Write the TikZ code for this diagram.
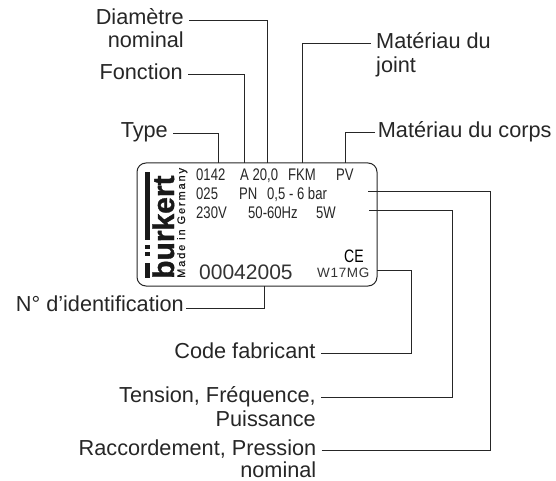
\documentclass[tikz,border=0pt]{standalone}
\usepackage{fontspec}
\setmainfont{Liberation Sans}
\newfontfamily\condfont[FakeStretch=0.78]{Liberation Sans}
\newfontfamily\madefont[LetterSpace=17,FakeBold=0.6]{Liberation Sans}
\newfontfamily\wfont[LetterSpace=5]{Liberation Sans}
\newfontfamily\logofont[FakeBold=1.2]{Liberation Sans Bold}
\begin{document}
\begin{tikzpicture}[x=1pt,y=-1pt,
  lbl/.style={inner sep=0pt,font=\fontsize{21.7}{23.8}\selectfont,text=black!85},
  plt/.style={inner sep=0pt,anchor=base west,font=\condfont\fontsize{16.8}{18}\selectfont,text=black!85},
  lead/.style={line width=0.8pt,draw=black!85}]
\useasboundingbox (0,0) rectangle (556,481);
% plate
\node[draw=black!85,line width=1pt,rounded corners=9pt,minimum width=240pt,minimum height=123pt,inner sep=0pt] (plate) at (257,224.5) {};
% logo
\fill[black!90] (145,172) rectangle (150,240);
\fill[black!90] (145,245) rectangle (150,249);
\fill[black!90] (145,252) rectangle (150,256);
\fill[black!90] (145,263) rectangle (150,278);
\node[rotate=90,anchor=base west,inner sep=0pt,font=\logofont\fontsize{30}{30}\selectfont,text=black!90] (logo) at (174,279) {burkert};
\node[rotate=90,anchor=base west,inner sep=0pt,font=\madefont\fontsize{11}{11}\selectfont,text=black!90] (made) at (185,278) {Made in Germany};
% plate text
\node[plt] (a1) at (196,180) {0142};
\node[plt] (a2) at (240,180) {A 20,0};
\node[plt] (a3) at (288,180) {FKM};
\node[plt] (a4) at (336,180) {PV};
\node[plt] (b1) at (196,199) {025};
\node[plt] (b2) at (239,199) {PN};
\node[plt] (b3) at (267,199) {0,5 - 6 bar};
\node[plt] (c1) at (196,218) {230V};
\node[plt] (c2) at (248,218) {50-60Hz};
\node[plt] (c3) at (316,218) {5W};
\node[inner sep=0pt,anchor=base west,font=\fontsize{21}{21}\selectfont,text=black!80] (idn) at (199,279) {00042005};
\node[inner sep=0pt,anchor=base west,font=\wfont\fontsize{13.5}{14}\selectfont,text=black!80] (wcode) at (317,277) {W17MG};
\node[inner sep=0pt,anchor=base west,font=\condfont\fontsize{18}{18}\selectfont,text=black] (ce) at (344,262) {CE};
% labels
\node[lbl,align=right,anchor=base east] (dia) at (184,48) {Diamètre\\nominal};
\node[lbl,anchor=base east] (fon) at (183,79.5) {Fonction};
\node[lbl,anchor=base east] (typ) at (168,137.3) {Type};
\node[lbl,align=left,anchor=base west] (joi) at (376,72.7) {Matériau du\\joint};
\node[lbl,anchor=base west] (cor) at (377.7,137.3) {Matériau du corps};
\node[lbl,anchor=base east] (idl) at (184,311.7) {N° d’identification};
\node[lbl,anchor=base east] (cod) at (315.7,358) {Code fabricant};
\node[lbl,align=right,anchor=base east] (ten) at (316,426) {Tension, Fréquence,\\Puissance};
\node[lbl,align=right,anchor=base east,font=\fontsize{21.7}{21.5}\selectfont] (rac) at (316.5,477) {Raccordement, Pression\\nominal};
% free ends
\coordinate (e1) at (218,163);
\coordinate (e2) at (244,163);
\coordinate (e3) at (267,163);
\coordinate (e4) at (302.5,163);
\coordinate (e5) at (345.5,163);
\coordinate (e6) at (264,286);
\coordinate (e7) at (368,191);
\coordinate (e8) at (369,210);
\coordinate (e9) at (377,270.5);
\coordinate (d1) at (189,20);
\coordinate (d2) at (188,74.7);
\coordinate (d3) at (173,133.7);
\coordinate (d4) at (371,43.3);
\coordinate (d5) at (375,132.7);
\coordinate (d6) at (186,308);
\coordinate (d7) at (321,353);
\coordinate (d8) at (321,397.3);
\coordinate (d9) at (321.5,450.3);
% connectors
\draw[lead] (d1) -| (e3);
\draw[lead] (d2) -| (e2);
\draw[lead] (d3) -| (e1);
\draw[lead] (d4) -| (e4);
\draw[lead] (d5) -| (e5);
\draw[lead] (d6) -| (e6);
\draw[lead] (d7) -| (411.7,270.5) -- (e9);
\draw[lead] (d8) -| (452,210) -- (e8);
\draw[lead] (d9) -| (490.7,191) -- (e7);
\end{tikzpicture}
\end{document}
